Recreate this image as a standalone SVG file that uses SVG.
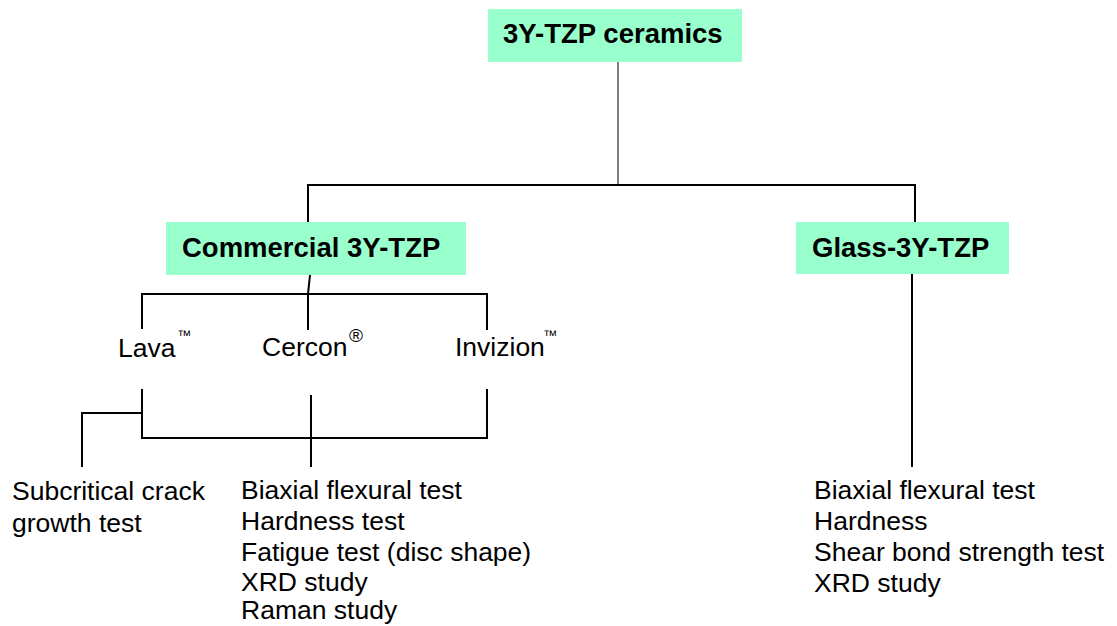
<svg xmlns="http://www.w3.org/2000/svg" width="1117" height="626" viewBox="0 0 1117 626">
<style>
.box{fill:#99FFCC;stroke:none}
.hd{font-family:"Liberation Sans",Arial,sans-serif;font-weight:bold;font-size:27.5px;fill:#000}
.tx{font-family:"Liberation Sans",Arial,sans-serif;font-size:26.5px;fill:#000}
.sup{font-family:"Liberation Sans",Arial,sans-serif;font-size:14px;fill:#000}
.reg{font-family:"Liberation Sans",Arial,sans-serif;font-size:19px;fill:#000}
.ln{stroke:#000;stroke-width:2;fill:none}
.lg{stroke:#555;stroke-width:1.5;fill:none}
</style>
<rect width="1117" height="626" fill="#fff"/>
<g id="connectors">
<line class="lg" x1="618" y1="61" x2="618" y2="185"/>
<polyline class="ln" points="308,222 308,185 915,185 915,222"/>
<line class="ln" x1="310" y1="275" x2="308" y2="294"/>
<polyline class="ln" points="142,329 142,294 487,294 487,330"/>
<line class="ln" x1="308" y1="294" x2="308" y2="330"/>
<polyline class="ln" points="142,389 142,438 487,438 487,389"/>
<line class="ln" x1="311" y1="395" x2="311" y2="467"/>
<polyline class="ln" points="142,413 82,413 82,467"/>
<line class="ln" x1="912" y1="274" x2="912" y2="467"/>
</g>
<g id="root">
<rect class="box" x="488" y="9" width="254" height="53"/>
<text class="hd" x="503" y="43">3Y-TZP ceramics</text>
</g>
<g id="commercial">
<rect class="box" x="166" y="222" width="300" height="53"/>
<text class="hd" x="182" y="257">Commercial 3Y-TZP</text>
</g>
<g id="glass">
<rect class="box" x="796" y="222" width="213" height="52"/>
<text class="hd" x="812" y="257">Glass-3Y-TZP</text>
</g>
<g id="lava">
<text class="tx" x="118" y="357">Lava</text>
<text class="sup" x="177" y="340">™</text>
</g>
<g id="cercon">
<text class="tx" x="262" y="356">Cercon</text>
<text class="reg" x="349" y="342">®</text>
</g>
<g id="invizion">
<text class="tx" x="455" y="356">Invizion</text>
<text class="sup" x="543" y="340">™</text>
</g>
<g id="subcritical">
<text class="tx" x="12" y="500">Subcritical crack</text>
<text class="tx" x="12" y="532">growth test</text>
</g>
<g id="commercial-tests">
<text class="tx" x="241" y="499">Biaxial flexural test</text>
<text class="tx" x="241" y="530">Hardness test</text>
<text class="tx" x="241" y="561">Fatigue test (disc shape)</text>
<text class="tx" x="241" y="591">XRD study</text>
<text class="tx" x="241" y="619">Raman study</text>
</g>
<g id="glass-tests">
<text class="tx" x="814" y="499">Biaxial flexural test</text>
<text class="tx" x="814" y="530">Hardness</text>
<text class="tx" x="814" y="561">Shear bond strength test</text>
<text class="tx" x="814" y="592">XRD study</text>
</g>
</svg>
